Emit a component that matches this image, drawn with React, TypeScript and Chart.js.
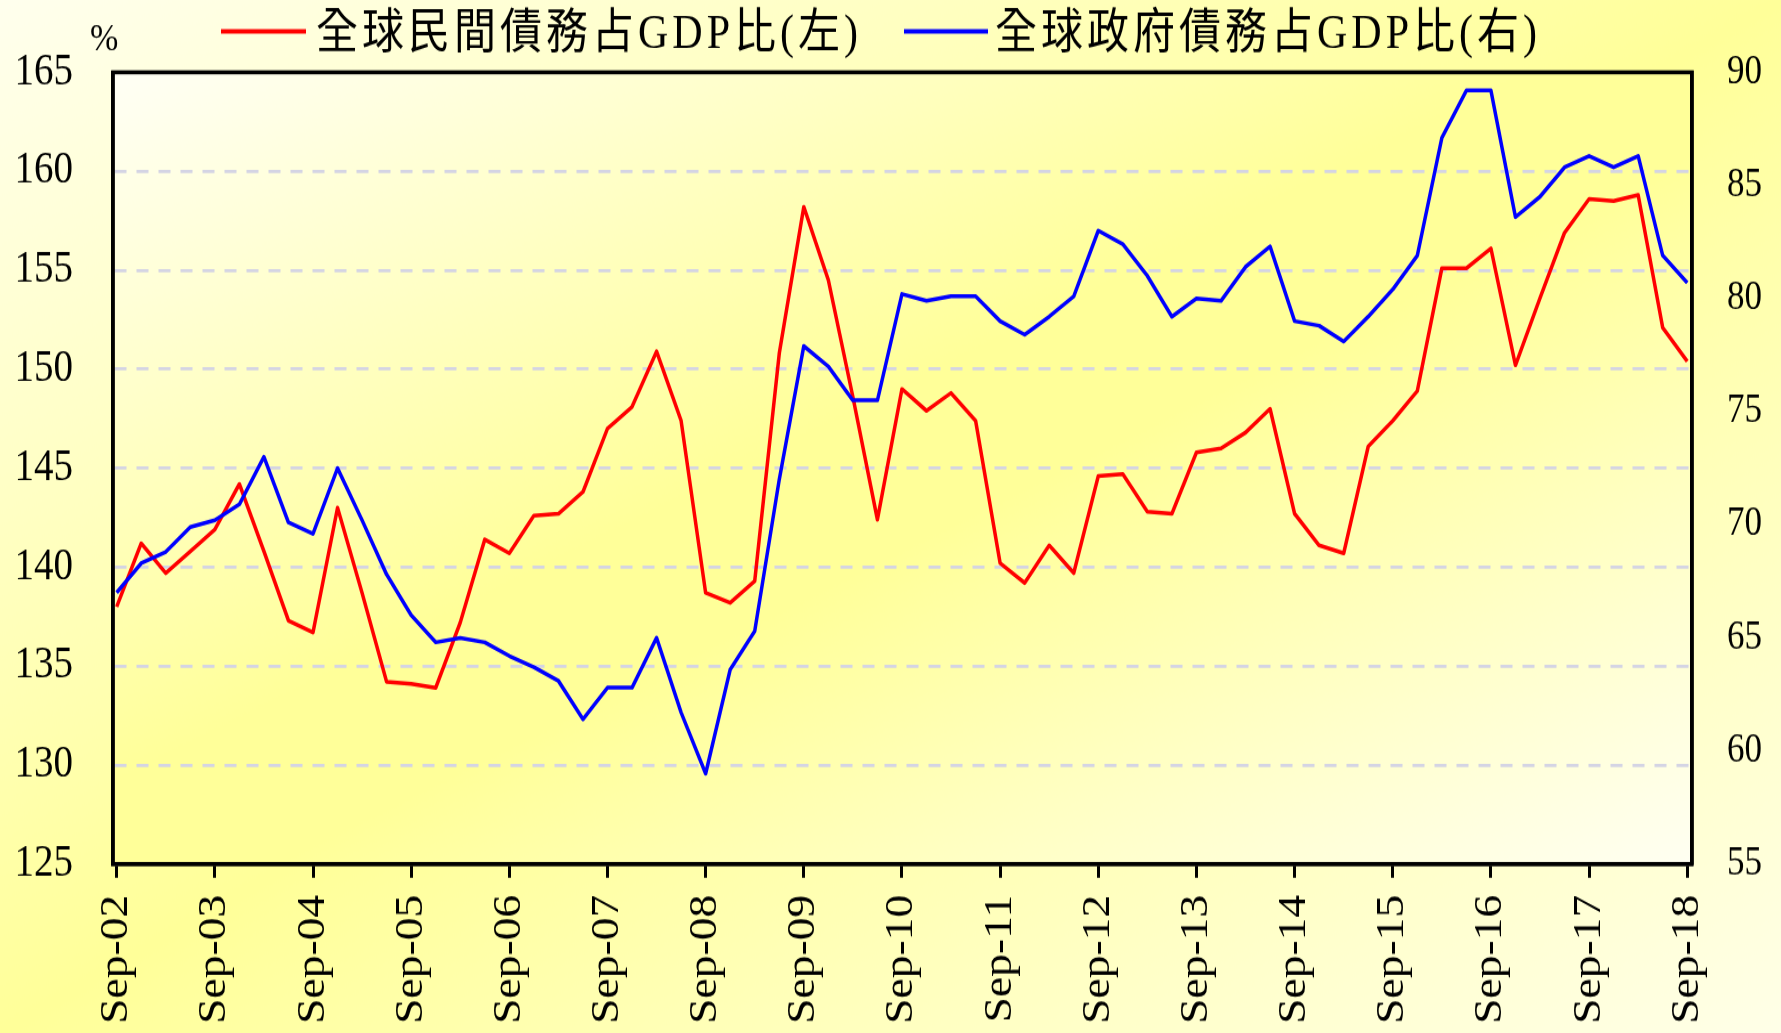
import React, { useEffect, useRef } from "react";
import { Chart, registerables } from "chart.js";

Chart.register(...registerables);

// Canvas is drawn at a reduced internal height and stretched vertically,
// like the original (a vertically stretched Excel picture).
const VIEW_W = 1781;
const VIEW_H = 1033;
const CANVAS_W = 1781;
const CANVAS_H = 906;

// Yearly tick labels (one every 4 quarters)
const tickLabels = [
  "Sep-02", "Sep-03", "Sep-04", "Sep-05", "Sep-06", "Sep-07", "Sep-08", "Sep-09",
  "Sep-10", "Sep-11", "Sep-12", "Sep-13", "Sep-14", "Sep-15", "Sep-16", "Sep-17", "Sep-18",
];

// Quarterly series, Sep-02 .. Sep-18 (65 quarters)
const privateDebt = [
  138.0, 141.2, 139.7, 140.8, 141.9, 144.2, 140.8, 137.3, 136.7, 143.0,
  138.7, 134.2, 134.1, 133.9, 137.2, 141.4, 140.7, 142.6, 142.7, 143.8,
  147.0, 148.1, 150.9, 147.4, 138.7, 138.2, 139.3, 150.8, 158.2, 154.5,
  148.6, 142.4, 149.0, 147.9, 148.8, 147.4, 140.2, 139.2, 141.1, 139.7,
  144.6, 144.7, 142.8, 142.7, 145.8, 146.0, 146.8, 148.0, 142.7, 141.1,
  140.7, 146.1, 147.4, 148.9, 155.1, 155.1, 156.1, 150.2, 153.6, 156.9,
  158.6, 158.5, 158.8, 152.1, 150.4,
];

const govDebt = [
  67.0, 68.3, 68.8, 69.9, 70.2, 70.9, 73.0, 70.1, 69.6, 72.5,
  70.2, 67.8, 66.0, 64.8, 65.0, 64.8, 64.2, 63.7, 63.1, 61.4,
  62.8, 62.8, 65.0, 61.7, 59.0, 63.6, 65.3, 72.0, 77.9, 77.0,
  75.5, 75.5, 80.2, 79.9, 80.1, 80.1, 79.0, 78.4, 79.2, 80.1,
  83.0, 82.4, 81.0, 79.2, 80.0, 79.9, 81.4, 82.3, 79.0, 78.8,
  78.1, 79.2, 80.4, 81.9, 87.1, 89.2, 89.2, 83.6, 84.5, 85.8,
  86.3, 85.8, 86.3, 81.9, 80.7,
];

const seriesNames = ["全球民間債務占GDP比(左)", "全球政府債務占GDP比(右)"];
const seriesColors = ["#FF0000", "#0000FF"];
const unitLabel = "%";

const leftAxis = { min: 125, max: 165, step: 5 };
const rightAxis = { min: 55, max: 90, step: 5 };

const MONTHS_PER_QUARTER = 3;
const MONTHS_PER_TICK = 12;

const toXY = (arr: number[]) => arr.map((v, i) => ({ x: i * MONTHS_PER_QUARTER, y: v }));

const SERIF = "'Liberation Serif', 'Times New Roman', serif";
const LEGEND_FONT = "42px 'Liberation Serif', 'Noto Sans CJK TC', serif";

function fillDiagonal(
  ctx: CanvasRenderingContext2D,
  x: number,
  y: number,
  w: number,
  h: number,
  stops: [number, string][]
) {
  ctx.save();
  ctx.translate(x, y);
  ctx.scale(w, h);
  const g = ctx.createLinearGradient(0, 0, 1, 1);
  stops.forEach(([o, c]) => g.addColorStop(o, c));
  ctx.fillStyle = g;
  ctx.fillRect(0, 0, 1, 1);
  ctx.restore();
}

const decorPlugin = {
  id: "decor",
  beforeDraw(chart: any) {
    const { ctx, chartArea: a } = chart;
    fillDiagonal(ctx, 0, 0, chart.width, chart.height, [
      [0, "#FFFFEE"],
      [0.5, "#FFFF99"],
      [1, "#FFFFE8"],
    ]);
    fillDiagonal(ctx, a.left, a.top, a.right - a.left, a.bottom - a.top, [
      [0, "#FFFFF6"],
      [0.45, "#FFFF99"],
      [0.55, "#FFFF99"],
      [1, "#FFFFF2"],
    ]);
  },
  afterDatasetsDraw(chart: any) {
    const { ctx, chartArea: a } = chart;
    ctx.save();
    ctx.strokeStyle = "#000";
    ctx.lineWidth = 3.5;
    ctx.lineJoin = "miter";
    ctx.strokeRect(a.left, a.top, a.right - a.left, a.bottom - a.top);
    ctx.restore();
  },
  afterDraw(chart: any) {
    const { ctx } = chart;
    ctx.save();
    // unit label
    ctx.fillStyle = "#000";
    ctx.font = `34px ${SERIF}`;
    ctx.textBaseline = "alphabetic";
    ctx.textAlign = "left";
    ctx.fillText(unitLabel, 90, 44);

    // legend
    const items = [
      { x1: 221, x2: 306, tx: 316 },
      { x1: 904, x2: 988, tx: 995 },
    ];
    items.forEach((it, k) => {
      ctx.strokeStyle = seriesColors[k];
      ctx.lineWidth = 4;
      ctx.lineCap = "butt";
      ctx.beginPath();
      ctx.moveTo(it.x1, 27.5);
      ctx.lineTo(it.x2, 27.5);
      ctx.stroke();
      ctx.fillStyle = "#000";
      ctx.font = LEGEND_FONT;
      try {
        (ctx as any).letterSpacing = "4px";
      } catch (e) {}
      ctx.textBaseline = "alphabetic";
      ctx.fillText(seriesNames[k], it.tx, 41.5);
      try {
        (ctx as any).letterSpacing = "0px";
      } catch (e) {}
    });
    ctx.restore();
  },
};

export default function App() {
  const ref = useRef<HTMLCanvasElement>(null);

  useEffect(() => {
    document.body.style.margin = "0";
    document.body.style.overflow = "hidden";
    const canvas = ref.current;
    if (!canvas) return;

    const chart = new Chart(canvas, {
      type: "line",
      data: {
        datasets: [
          {
            label: seriesNames[0],
            data: toXY(privateDebt),
            yAxisID: "y",
            borderColor: seriesColors[0],
            backgroundColor: seriesColors[0],
            borderWidth: 3.5,
            pointRadius: 0,
            tension: 0,
            fill: false,
            borderJoinStyle: "round",
            order: 1,
          },
          {
            label: seriesNames[1],
            data: toXY(govDebt),
            yAxisID: "y1",
            borderColor: seriesColors[1],
            backgroundColor: seriesColors[1],
            borderWidth: 3.5,
            pointRadius: 0,
            tension: 0,
            fill: false,
            borderJoinStyle: "round",
            order: 0,
          },
        ],
      },
      options: {
        responsive: false,
        animation: false,
        devicePixelRatio: 1,
        events: [],
        layout: { padding: { top: 61.8, left: 0, right: 0, bottom: 0 } },
        plugins: {
          legend: { display: false },
          tooltip: { enabled: false },
          title: { display: false },
        },
        scales: {
          x: {
            type: "linear",
            min: -0.45,
            max: 192.58,
            afterBuildTicks: (s: any) => {
              s.ticks = tickLabels.map((_, k) => ({ value: k * MONTHS_PER_TICK }));
            },
            afterFit: (s: any) => {
              s.height = CANVAS_H - 757.8;
            },
            grid: {
              display: true,
              drawOnChartArea: false,
              drawTicks: true,
              tickLength: 12,
              tickWidth: 3,
              tickColor: "#000",
            },
            border: { display: true, color: "#000", width: 3.5 },
            ticks: {
              autoSkip: false,
              minRotation: 90,
              maxRotation: 90,
              padding: 15,
              color: "#000",
              font: { family: SERIF, size: 40 },
              callback: (v: any) => tickLabels[Math.round(Number(v) / MONTHS_PER_TICK)] ?? "",
            },
          },
          y: {
            position: "left",
            min: leftAxis.min,
            max: leftAxis.max,
            afterFit: (s: any) => {
              s.width = 113;
            },
            grid: {
              display: true,
              drawOnChartArea: true,
              drawTicks: false,
              color: "rgb(212,212,228)",
              lineWidth: 2.8,
            },
            border: { display: true, color: "#000", width: 3.5, dash: [12, 10] },
            ticks: {
              stepSize: leftAxis.step,
              padding: 40,
              color: "#000",
              font: { family: SERIF, size: 39 },
            },
          },
          y1: {
            position: "right",
            min: rightAxis.min,
            max: rightAxis.max,
            afterFit: (s: any) => {
              s.width = CANVAS_W - 1692;
            },
            grid: { display: false, drawOnChartArea: false, drawTicks: false },
            border: { display: true, color: "#000", width: 3.5 },
            ticks: {
              stepSize: rightAxis.step,
              padding: 35,
              color: "#000",
              font: { family: SERIF, size: 35 },
            },
          },
        },
      } as any,
      plugins: [decorPlugin],
    });

    return () => chart.destroy();
  }, []);

  return (
    <canvas
      ref={ref}
      width={CANVAS_W}
      height={CANVAS_H}
      style={{ display: "block", width: `${VIEW_W}px`, height: `${VIEW_H}px` }}
    />
  );
}
